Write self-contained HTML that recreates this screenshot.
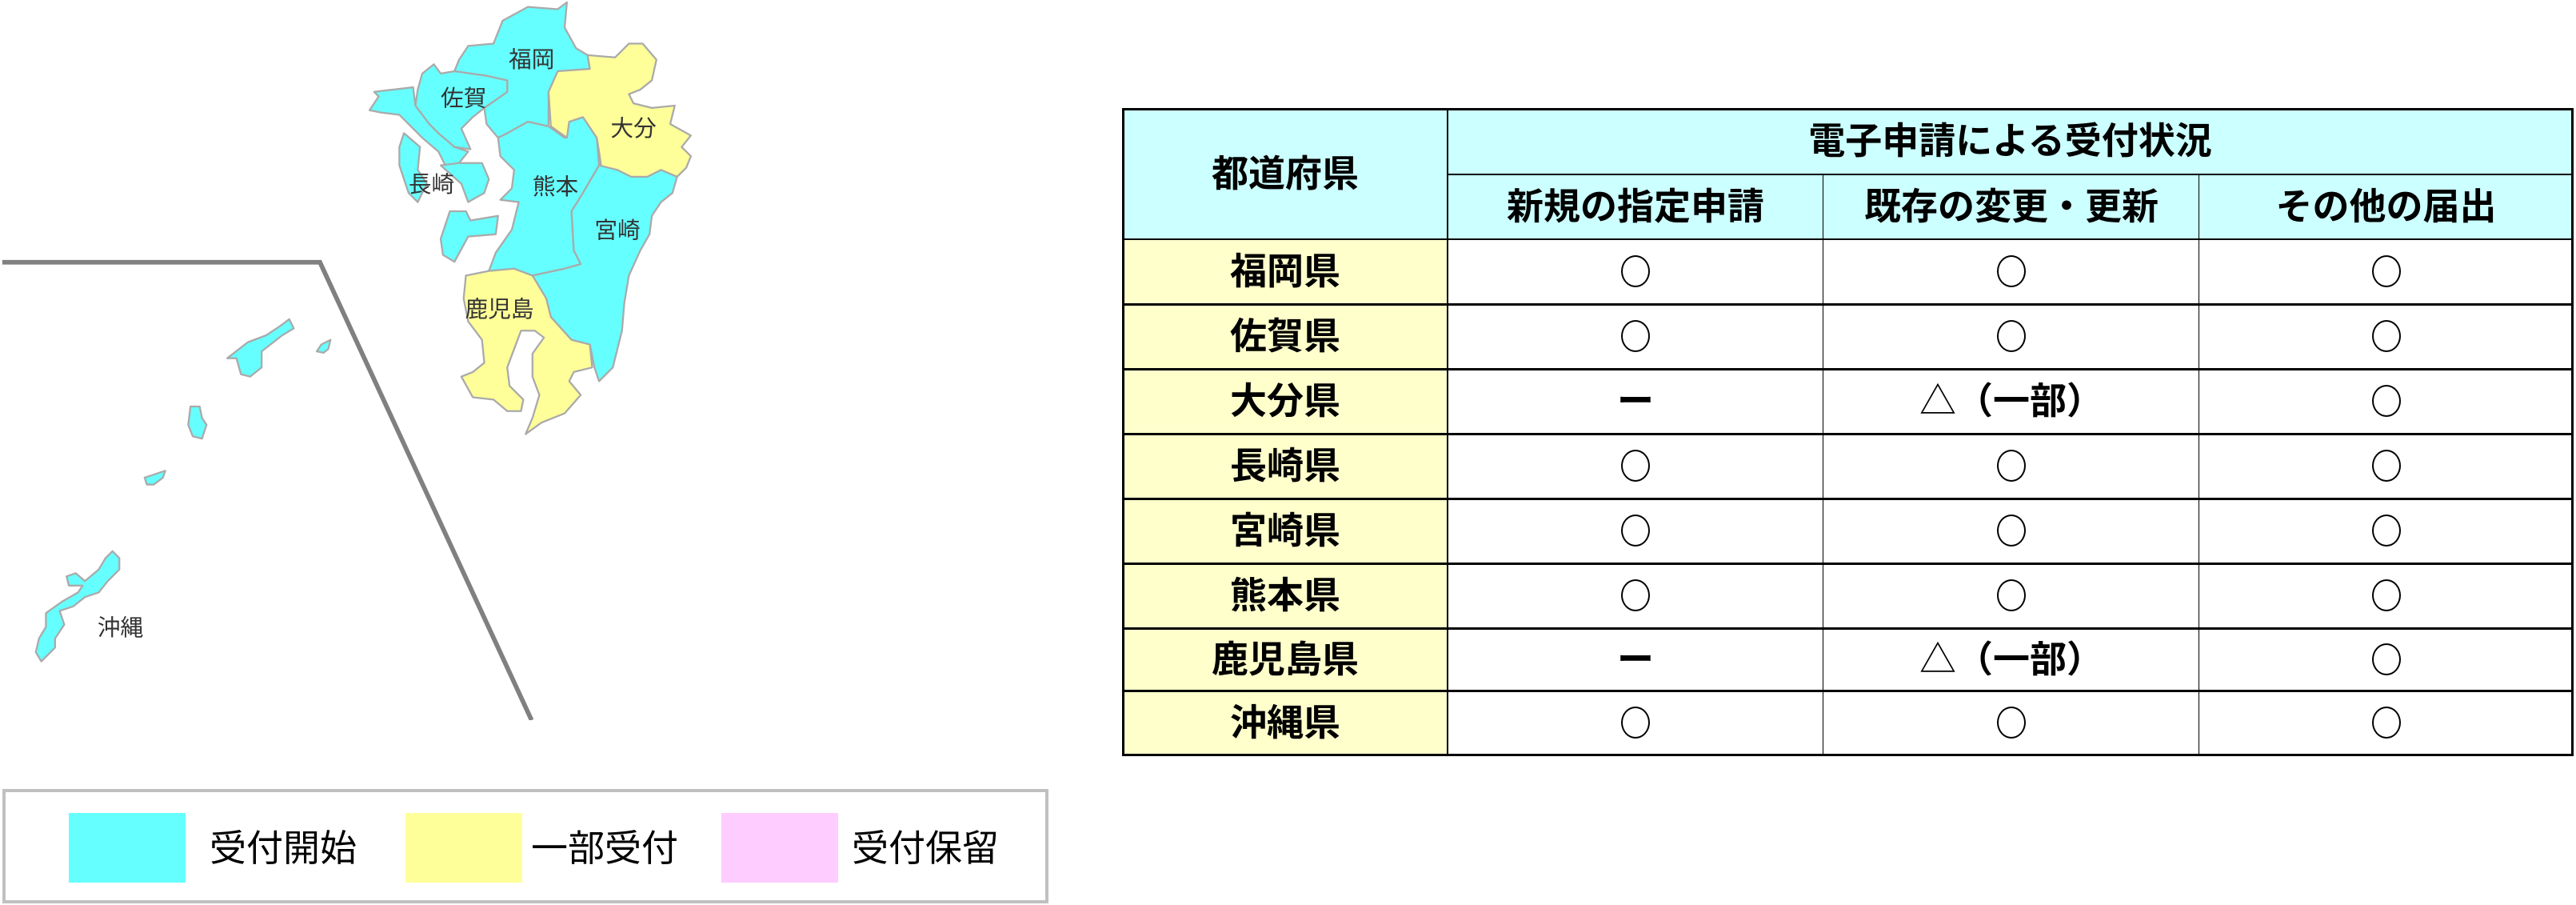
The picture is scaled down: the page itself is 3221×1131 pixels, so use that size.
<!DOCTYPE html>
<html><head><meta charset="utf-8"><style>
body{margin:0;width:3221px;height:1131px;background:#fff;position:relative;overflow:hidden;font-family:"Liberation Sans","Noto Sans CJK JP",sans-serif;}
.c{position:absolute;box-sizing:border-box;display:flex;align-items:center;justify-content:center;font-weight:bold;font-size:46px;color:#000;padding-bottom:8px;}
.h{background:#ccffff;}
.p{background:#ffffcc;}
.n::after{content:"";display:block;width:36px;height:40px;border:2.5px solid #000;border-radius:50%;box-sizing:border-box;margin-top:6px;}
.vl{position:absolute;background:#000;}
.hl{position:absolute;background:#000;}
</style></head><body>
<svg style="position:absolute;left:0;top:0" width="900" height="900" viewBox="0 0 1568 1568">
<g stroke="#aaaaaa" stroke-width="4" stroke-linejoin="round">
<polygon fill="#66ffff" points="1000,130 1020,100 1075,95 1095,45 1150,15 1215,20 1235,5 1230,60 1255,105 1280,120 1285,150 1215,155 1195,200 1195,275 1150,265 1105,290 1085,300 1060,270 1055,235 1105,200 1105,175 1060,165 990,155"/>
<polygon fill="#66ffff" points="920,160 945,140 960,160 990,155 1060,165 1105,175 1105,200 1055,235 1030,255 1005,280 1025,325 990,320 955,290 935,270 905,230 910,195"/>
<polygon fill="#66ffff" points="815,200 900,190 905,230 935,270 955,290 990,320 1020,330 1000,355 970,360 955,330 920,300 870,250 830,245 805,240 825,210"/>
<polygon fill="#66ffff" points="1000,355 1050,355 1065,390 1055,420 1020,440 1005,400 960,360"/>
<polygon fill="#66ffff" points="880,290 915,320 910,370 930,400 910,440 890,420 870,360 870,320"/>
<polygon fill="#66ffff" points="980,460 1015,460 1025,480 1085,470 1080,510 1020,515 990,570 965,555 960,520"/>
<polygon fill="#66ffff" points="1085,300 1105,290 1150,265 1195,275 1230,300 1240,265 1270,255 1300,300 1305,360 1270,420 1245,460 1250,545 1265,575 1230,585 1160,600 1120,585 1065,590 1080,550 1115,500 1130,440 1090,435 1115,410 1120,370 1090,340"/>
<polygon fill="#ffff99" points="1280,120 1340,125 1370,95 1400,95 1430,130 1420,175 1395,195 1370,205 1380,225 1420,235 1470,230 1460,270 1505,295 1485,320 1505,340 1495,365 1475,385 1440,370 1410,385 1375,385 1345,370 1310,365 1305,330 1300,300 1270,255 1240,265 1235,300 1200,275 1195,200 1215,155 1285,150"/>
<polygon fill="#66ffff" points="1305,360 1345,370 1375,385 1410,385 1440,370 1475,385 1465,420 1440,440 1420,470 1415,510 1395,545 1370,600 1360,660 1355,720 1345,760 1335,800 1305,830 1295,800 1285,750 1245,740 1200,690 1190,650 1160,600 1230,585 1265,575 1250,545 1245,460 1270,420"/>
<polygon fill="#ffff99" points="1015,600 1065,590 1120,585 1160,600 1190,650 1200,690 1245,740 1285,750 1290,800 1250,810 1240,830 1265,860 1230,900 1180,920 1145,945 1160,910 1175,860 1160,820 1160,770 1185,735 1165,720 1135,720 1120,760 1105,800 1110,840 1140,870 1135,895 1105,895 1075,870 1030,865 1005,820 1030,810 1055,790 1050,740 1020,700 1010,650"/>
<polygon fill="#66ffff" points="495,780 540,745 580,730 610,710 630,695 640,715 615,730 570,765 570,800 545,820 525,815 515,780"/>
<polygon fill="#66ffff" points="690,765 700,750 720,740 715,760 705,768"/>
<polygon fill="#66ffff" points="415,885 435,885 440,910 450,925 440,955 420,950 410,925"/>
<polygon fill="#66ffff" points="315,1040 360,1025 355,1040 335,1055 320,1055"/>
<polygon fill="#66ffff" points="245,1200 260,1215 260,1240 235,1265 215,1290 185,1300 160,1320 130,1330 140,1360 120,1390 120,1410 90,1440 78,1420 85,1390 100,1365 100,1335 135,1310 170,1290 180,1275 150,1275 145,1255 165,1248 185,1265 215,1240 230,1215"/>
</g>
<polyline points="5,571 697,571 1158,1568" fill="none" stroke="#808080" stroke-width="10"/>
<g font-family="Liberation Sans,Noto Sans CJK JP,sans-serif" font-size="50" fill="#333" text-anchor="middle">
<text x="1158" y="146">福岡</text>
<text x="1010" y="231">佐賀</text>
<text x="1380" y="296">大分</text>
<text x="940" y="418">長崎</text>
<text x="1210" y="423">熊本</text>
<text x="1345" y="518">宮崎</text>
<text x="1088" y="690">鹿児島</text>
<text x="262" y="1383">沖縄</text>
</g>
</svg>

<div style="position:absolute;left:3px;top:986px;width:1308px;height:143px;border:4px solid #c0c0c0;box-sizing:border-box;background:#fff"></div>
<div style="position:absolute;left:86px;top:1016px;width:146px;height:87px;background:#66ffff"></div>
<div style="position:absolute;left:507px;top:1016px;width:146px;height:87px;background:#ffff99"></div>
<div style="position:absolute;left:902px;top:1016px;width:146px;height:87px;background:#ffccff"></div>
<div style="position:absolute;left:262px;top:1030px;font-size:46px;line-height:60px">受付開始</div>
<div style="position:absolute;left:664px;top:1030px;font-size:46px;line-height:60px">一部受付</div>
<div style="position:absolute;left:1065px;top:1030px;font-size:46px;line-height:60px">受付保留</div>

<div class="c h" style="left:1404px;top:136px;width:406px;height:163px">都道府県</div>
<div class="c h" style="left:1810px;top:136px;width:1407px;height:82px">電子申請による受付状況</div>
<div class="c h" style="left:1810px;top:218px;width:470px;height:81px">新規の指定申請</div>
<div class="c h" style="left:2280px;top:218px;width:470px;height:81px">既存の変更・更新</div>
<div class="c h" style="left:2750px;top:218px;width:467px;height:81px">その他の届出</div>

<div class="c p" style="left:1404px;top:299px;width:406px;height:81px">福岡県</div>
<div class="c p" style="left:1404px;top:380px;width:406px;height:81px">佐賀県</div>
<div class="c p" style="left:1404px;top:461px;width:406px;height:81px">大分県</div>
<div class="c p" style="left:1404px;top:542px;width:406px;height:81px">長崎県</div>
<div class="c p" style="left:1404px;top:623px;width:406px;height:81px">宮崎県</div>
<div class="c p" style="left:1404px;top:704px;width:406px;height:81px">熊本県</div>
<div class="c p" style="left:1404px;top:785px;width:406px;height:79px">鹿児島県</div>
<div class="c p" style="left:1404px;top:864px;width:406px;height:80px">沖縄県</div>

<div class="c n" style="left:1810px;top:299px;width:470px;height:81px"></div>
<div class="c n" style="left:1810px;top:380px;width:470px;height:81px"></div>
<div class="c" style="left:1810px;top:461px;width:470px;height:81px">ー</div>
<div class="c n" style="left:1810px;top:542px;width:470px;height:81px"></div>
<div class="c n" style="left:1810px;top:623px;width:470px;height:81px"></div>
<div class="c n" style="left:1810px;top:704px;width:470px;height:81px"></div>
<div class="c" style="left:1810px;top:785px;width:470px;height:79px">ー</div>
<div class="c n" style="left:1810px;top:864px;width:470px;height:80px"></div>

<div class="c n" style="left:2280px;top:299px;width:470px;height:81px"></div>
<div class="c n" style="left:2280px;top:380px;width:470px;height:81px"></div>
<div class="c" style="left:2280px;top:461px;width:470px;height:81px"><span style="font-weight:normal">△</span>（一部）</div>
<div class="c n" style="left:2280px;top:542px;width:470px;height:81px"></div>
<div class="c n" style="left:2280px;top:623px;width:470px;height:81px"></div>
<div class="c n" style="left:2280px;top:704px;width:470px;height:81px"></div>
<div class="c" style="left:2280px;top:785px;width:470px;height:79px"><span style="font-weight:normal">△</span>（一部）</div>
<div class="c n" style="left:2280px;top:864px;width:470px;height:80px"></div>

<div class="c n" style="left:2750px;top:299px;width:467px;height:81px"></div>
<div class="c n" style="left:2750px;top:380px;width:467px;height:81px"></div>
<div class="c n" style="left:2750px;top:461px;width:467px;height:81px"></div>
<div class="c n" style="left:2750px;top:542px;width:467px;height:81px"></div>
<div class="c n" style="left:2750px;top:623px;width:467px;height:81px"></div>
<div class="c n" style="left:2750px;top:704px;width:467px;height:81px"></div>
<div class="c n" style="left:2750px;top:785px;width:467px;height:79px"></div>
<div class="c n" style="left:2750px;top:864px;width:467px;height:80px"></div>

<div class="hl" style="left:1403px;top:135px;width:1815px;height:3px"></div>
<div class="hl" style="left:1810px;top:217px;width:1408px;height:2px"></div>
<div class="hl" style="left:1403px;top:298px;width:1815px;height:2px"></div>
<div class="hl" style="left:1403px;top:379px;width:1815px;height:3px"></div>
<div class="hl" style="left:1403px;top:460px;width:1815px;height:3px"></div>
<div class="hl" style="left:1403px;top:541px;width:1815px;height:3px"></div>
<div class="hl" style="left:1403px;top:622px;width:1815px;height:3px"></div>
<div class="hl" style="left:1403px;top:703px;width:1815px;height:3px"></div>
<div class="hl" style="left:1403px;top:784px;width:1815px;height:3px"></div>
<div class="hl" style="left:1403px;top:862px;width:1815px;height:3px"></div>
<div class="hl" style="left:1403px;top:942px;width:1815px;height:3px"></div>
<div class="vl" style="left:1403px;top:135px;width:3px;height:810px"></div>
<div class="vl" style="left:1809px;top:135px;width:2px;height:810px"></div>
<div class="vl" style="left:2279px;top:218px;width:1px;height:727px"></div>
<div class="vl" style="left:2749px;top:218px;width:1px;height:727px"></div>
<div class="vl" style="left:3215px;top:135px;width:3px;height:810px"></div>
</body></html>
